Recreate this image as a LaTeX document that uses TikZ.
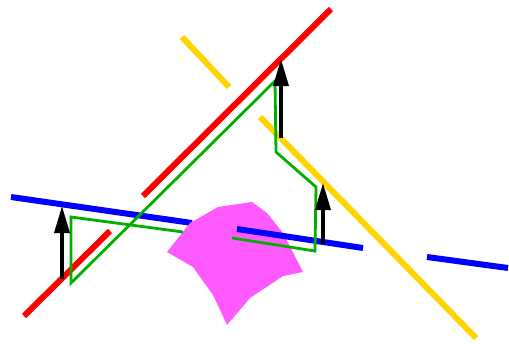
\documentclass[tikz,border=0pt]{standalone}
\usetikzlibrary{arrows.meta}
\definecolor{mirrorred}{RGB}{255,0,0}
\definecolor{mirrorblue}{RGB}{0,0,255}
\definecolor{mirroryellow}{RGB}{255,212,0}
\definecolor{raygreen}{RGB}{0,176,0}
\definecolor{blobpink}{RGB}{255,90,255}

\begin{document}
\begin{tikzpicture}[x=1pt,y=-1pt,>={Triangle[length=27pt,width=15pt]},
    mirror/.style={line width=6pt},
    ray/.style={raygreen,line width=2.8pt,line join=miter},
    normal/.style={->,line width=3.5pt,black}]
  \useasboundingbox (0,0) rectangle (509,343);
  % Mirrors behind the blob
  \draw[mirror,mirrorred] (143,196)--(331,9);
  \draw[mirror,mirrorred] (24,316)--(110,231);
  \draw[mirror,mirrorblue] (11,197)--(192,223);
  \draw[mirror,mirroryellow] (182,37)--(229,87);
  \draw[mirror,mirroryellow] (260,117)--(476,338);
  % Obstacle
  \fill[blobpink] (167,252)--(190,223)--(218,207)--(252,202)--(267,213)--(283,233)
    --(303,272)--(283,276)--(250,298)--(227,325)--(213,295)--(193,267)--cycle;
  % Mirrors in front
  \draw[mirror,mirrorblue] (237,229)--(363,248);
  \draw[mirror,mirrorblue] (427,257)--(508,268);
  % Light path
  \draw[ray] (183,232)--(71,217)--(71,283)--(275,81)--(276,152)--(316,187)
    --(315,251)--(232,238);
  % Normals
  \coordinate (tailA) at (62,279); \coordinate (headA) at (62,206);
  \coordinate (tailB) at (281,138); \coordinate (headB) at (281,59);
  \coordinate (tailC) at (323,244); \coordinate (headC) at (323,183);
  \draw[normal] (tailA)--(headA);
  \draw[normal] (tailB)--(headB);
  \draw[normal] (tailC)--(headC);
\end{tikzpicture}
\end{document}
